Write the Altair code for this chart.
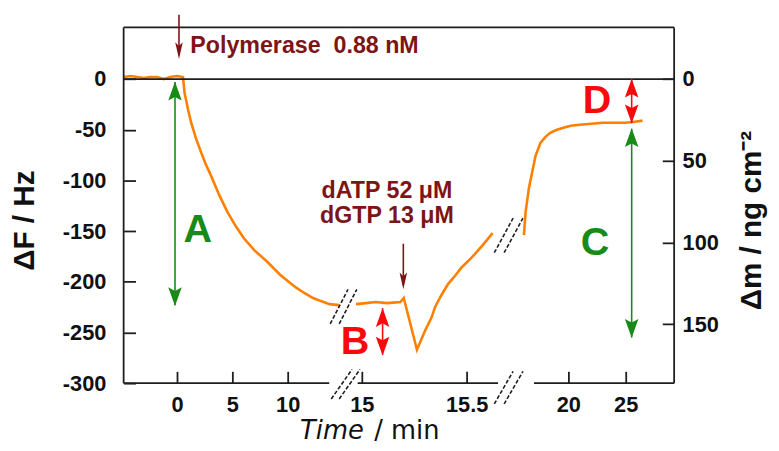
import altair as alt
import pandas as pd

# ---------------- values ----------------
# segment 1 of the broken time axis
t1 = [-4.8, -4.2, -3.6, -3.0, -2.4, -1.8, -1.2, -0.6, 0.0, 0.54, 0.69, 1.0, 1.28, 1.7, 2.17, 2.6,
      3.06, 3.8, 4.55, 5.3, 6.04, 7.0, 8.13, 9.31, 10.2, 10.8, 11.5, 12.29, 13.0, 13.78, 14.64]
f1 = [2, 3, 2, 1, 2, 2, 0, 2, 3, 2, -14, -30, -43, -58, -72, -84,
      -95, -114, -131, -145, -157, -169, -180, -193, -201, -206, -211, -216, -219, -222, -223]
# segment 2
t2 = [14.972, 15.02, 15.066, 15.12, 15.184, 15.2, 15.263, 15.302, 15.333, 15.349, 15.38, 15.412,
      15.445, 15.475, 15.505, 15.538, 15.58, 15.624]
f2 = [-222, -221, -220, -221, -220, -216, -267, -248, -235, -225, -213, -202,
      -194, -186, -180, -173, -163, -152]
# segment 3
t3 = [16.12, 16.27, 16.55, 16.84, 17.13, 17.56, 18.0, 18.42, 19.0, 19.57, 20.2, 21.0, 22.0, 23.0,
      24.0, 25.0, 25.8, 26.47]
f3 = [-154, -131, -108, -92, -76, -63, -57, -53, -50, -48, -46, -45, -44, -43,
      -43, -43, -42, -41]

LEFT_TICKS = [-300, -250, -200, -150, -100, -50, 0]
RIGHT_TICKS = [0, 50, 100, 150]
X_TICKS = [[0, 5, 10], [15, 15.5], [20, 25]]
K_MASS = 0.62  # ng cm-2 per Hz

# arrows: panel, time, top end, bottom end (Hz)
arrow_panel = [0, 1, 0, 1, 2, 2]
arrow_t = [0.18, 15.198, -0.18, 15.099, 25.52, 25.52]
arrow_top = [63.5, -162.4, -3, -226, -49, 0]
arrow_bot = [24, -203, -223, -272, -255, -43.5]
arrow_kind = ["dred", "dred", "green", "red", "green", "red"]

# arrow heads: panel, time, centre (Hz), direction angle, kind, thin?
head_panel = [0, 1, 0, 0, 1, 1, 2, 2, 2, 2]
head_t = [0.18, 15.198, -0.18, -0.18, 15.099, 15.099, 25.52, 25.52, 25.52, 25.52]
head_f = [28.1, -199.1, -11.9, -214.7, -235.2, -263.5, -57.7, -245.9, -9.0, -34.3]
head_ang = [180, 180, 0, 180, 0, 180, 0, 180, 0, 180]
head_kind = ["dred", "dred", "green", "green", "red", "red", "green", "green", "red", "red"]
head_thin = [True, True, False, False, False, False, False, False, False, False]

# text labels
lab_panel = [0, 1, 1, 0, 1, 2, 2]
lab_t = [1.2, 15.12, 15.12, 1.88, 14.967, 22.33, 22.5]
lab_f = [32.5, -110, -135.4, -148.9, -260, -161.6, -22.1]
lab_text = ["Polymerase\u00a0 0.88 nM", "dATP 52 \u03bcM", "dGTP 13 \u03bcM", "A", "B", "C", "D"]
lab_kind = ["dred", "dred", "dred", "green", "red", "green", "red"]
lab_big = [False, False, False, True, True, True, True]

# axis-break marks (drawn in segment-2 units)
brk_t = [14.854, 14.892, 14.849, 14.892, 15.632, 15.679, 15.632, 15.679]
brk_t2 = [14.953, 14.991, 14.934, 14.976, 15.722, 15.769, 15.722, 15.769]
brk_f = [-315.6, -315.6, -241.5, -241.5, -171.3, -171.3, -320.5, -320.5]
brk_f2 = [-286.4, -286.4, -207.4, -207.4, -137.2, -137.2, -288.3, -288.3]

# ---------------- layout / style ----------------
COLORS = {"dred": "#7d1416", "green": "#178a17", "red": "#f80a0a"}
ORANGE = "#ff7f00"
FRAME = "#1e1e1e"
W = [223, 173, 161]
H = 360
XDOM = [[-4.82, 15.09], [14.915, 15.731], [15.345, 29.225]]
AXIS_LINE = [[-4.82, 13.75], [14.98, 15.65], [17.0, 29.225]]
YDOM = [-300, 51]
FONT = "Liberation Sans"
HEAD = "M0,-1L0.72,1L0,0.62L-0.72,1Z"
THIN_HEAD = "M0,-1L0.45,1L0,0.55L-0.45,1Z"
PLAIN = "'' + datum.value"

segments = [(t1, f1), (t2, f2), (t3, f3)]
arrows = pd.DataFrame({"p": arrow_panel, "t": arrow_t, "f": arrow_top, "f2": arrow_bot,
                       "c": [COLORS[k] for k in arrow_kind]})
heads = pd.DataFrame({"p": head_panel, "t": head_t, "f": head_f, "a": head_ang,
                      "c": [COLORS[k] for k in head_kind], "thin": head_thin})
labels = pd.DataFrame({"p": lab_panel, "t": lab_t, "f": lab_f, "s": lab_text,
                       "c": [COLORS[k] for k in lab_kind], "big": lab_big})
breaks = pd.DataFrame({"t": brk_t, "t2": brk_t2, "f": brk_f, "f2": brk_f2})


def make_axes(i):
    xkw = dict(values=X_TICKS[i], offset=-12, tickSize=12, tickWidth=1.8, tickColor=FRAME,
               domain=False, grid=False, labelFont=FONT, labelFontSize=22,
               labelFontWeight="bold", labelColor="#111", labelPadding=12,
               labelBaseline="top", labelFlush=False, labelExpr=PLAIN)
    if i == 0:
        xkw.update(title="Time", titleFont="DejaVu Sans", titleFontSize=26,
                   titleFontWeight="normal", titleFontStyle="italic", titleColor="#111",
                   titleX=178, titleY=68, titleAlign="left", titleBaseline="alphabetic")
    elif i == 1:
        xkw.update(title="/ min", titleFont="DejaVu Sans", titleFontSize=26,
                   titleFontWeight="normal", titleColor="#111",
                   titleX=30, titleY=68, titleAlign="left", titleBaseline="alphabetic")
    else:
        xkw.update(title=None)
    xaxis = alt.Axis(**xkw)
    if i == 0:
        yaxis = alt.Axis(values=LEFT_TICKS, offset=-12, tickSize=12, tickWidth=1.8,
                         tickColor=FRAME, domain=False, grid=False, labelFont=FONT,
                         labelFontSize=22, labelFontWeight="bold", labelColor="#111",
                         labelPadding=18, labelExpr=PLAIN, title="\u0394F / Hz",
                         titleFont=FONT, titleFontSize=30, titleFontWeight="bold",
                         titleColor="#111", titleAngle=270, titleX=-112, titleY=195,
                         titleAlign="center", titleBaseline="middle")
    else:
        yaxis = None
    return xaxis, yaxis


def panel(i):
    xs = alt.Scale(domain=XDOM[i], nice=False, zero=False)
    ys = alt.Scale(domain=YDOM, nice=False, zero=False)
    xaxis, yaxis = make_axes(i)

    def X(field="t"):
        return alt.X(f"{field}:Q", scale=xs, axis=xaxis)

    def Y(field="f"):
        return alt.Y(f"{field}:Q", scale=ys, axis=yaxis)

    lo, hi = XDOM[i]
    layers = []
    # data line (carries the axes)
    seg = pd.DataFrame({"t": segments[i][0], "f": segments[i][1]})
    layers.append(alt.Chart(seg).mark_line(color=ORANGE, strokeWidth=2.6)
                  .encode(x=X(), y=Y()))
    # top border + zero line
    hl = pd.DataFrame({"t": [lo, lo], "t2": [hi, hi], "f": [YDOM[1], 0]})
    layers.append(alt.Chart(hl).mark_rule(color=FRAME, strokeWidth=1.8)
                  .encode(x=X(), x2="t2:Q", y=Y()))
    # bottom axis line piece
    bl = pd.DataFrame({"t": [AXIS_LINE[i][0]], "t2": [AXIS_LINE[i][1]], "f": [YDOM[0]]})
    layers.append(alt.Chart(bl).mark_rule(color=FRAME, strokeWidth=1.8)
                  .encode(x=X(), x2="t2:Q", y=Y()))
    # side borders
    if i in (0, 2):
        side = pd.DataFrame({"t": [lo if i == 0 else hi], "f": [YDOM[1]], "f2": [YDOM[0]]})
        layers.append(alt.Chart(side).mark_rule(color=FRAME, strokeWidth=1.8)
                      .encode(x=X(), y=Y(), y2="f2:Q"))

    # arrows
    a = arrows[arrows.p == i]
    if len(a):
        layers.append(alt.Chart(a).mark_rule(strokeWidth=1.6)
                      .encode(x=X(), y=Y(), y2="f2:Q", color=alt.Color("c:N", scale=None)))
    h = heads[heads.p == i]
    for thin in (False, True):
        hh = h[h.thin == thin]
        if len(hh):
            layers.append(alt.Chart(hh).mark_point(shape=THIN_HEAD if thin else HEAD,
                                                   filled=True, opacity=1, strokeWidth=0,
                                                   size=289 if thin else 361)
                          .encode(x=X(), y=Y(), angle=alt.Angle("a:Q", scale=None),
                                  color=alt.Color("c:N", scale=None)))
    # labels
    lb = labels[labels.p == i]
    small = lb[~lb.big]
    big = lb[lb.big]
    if len(small):
        align = "left" if i == 0 else "center"
        layers.append(alt.Chart(small).mark_text(font=FONT, fontSize=23.5, fontWeight="bold",
                                                 align=align, baseline="middle")
                      .encode(x=X(), y=Y(), text="s:N", color=alt.Color("c:N", scale=None)))
    if len(big):
        layers.append(alt.Chart(big).mark_text(font=FONT, fontSize=40, fontWeight="bold",
                                               align="center", baseline="middle")
                      .encode(x=X(), y=Y(), text="s:N", color=alt.Color("c:N", scale=None)))
    # break marks
    if i == 1:
        layers.append(alt.Chart(breaks).mark_rule(color=FRAME, strokeWidth=1.6,
                                                  strokeDash=[4, 2])
                      .encode(x=X(), x2="t2:Q", y=Y(), y2="f2:Q"))

    if i < 2:
        return alt.layer(*layers).properties(width=W[i], height=H)

    ms = alt.Scale(domain=[-K_MASS * YDOM[1], -K_MASS * YDOM[0]], reverse=True,
                   nice=False, zero=False)
    maxis = alt.Axis(orient="right", values=RIGHT_TICKS, offset=-12, tickSize=12,
                     tickWidth=1.8, tickColor=FRAME, domain=False, grid=False,
                     labelFont=FONT, labelFontSize=22, labelFontWeight="bold",
                     labelColor="#111", labelPadding=8, labelExpr=PLAIN,
                     title="\u0394m / ng cm\u207b\u00b2", titleFont=FONT,
                     titleFontSize=30, titleFontWeight="bold", titleColor="#111",
                     titleAngle=270, titleX=90, titleY=195, titleAlign="center",
                     titleBaseline="middle")
    mlayer = (alt.Chart(pd.DataFrame({"m": RIGHT_TICKS})).mark_tick(opacity=0)
              .encode(y=alt.Y("m:Q", scale=ms, axis=maxis), x=alt.value(0)))
    return alt.layer(alt.layer(*layers), mlayer).resolve_scale(y="independent") \
        .properties(width=W[i], height=H)


chart = alt.hconcat(panel(0), panel(1), panel(2), spacing=0, bounds="flush").properties(
    padding={"left": 2, "top": 3, "right": 5, "bottom": 5},
    background="white",
).configure_view(stroke=None)

chart.save("out.html", embed_options={"renderer": "svg", "actions": False})
